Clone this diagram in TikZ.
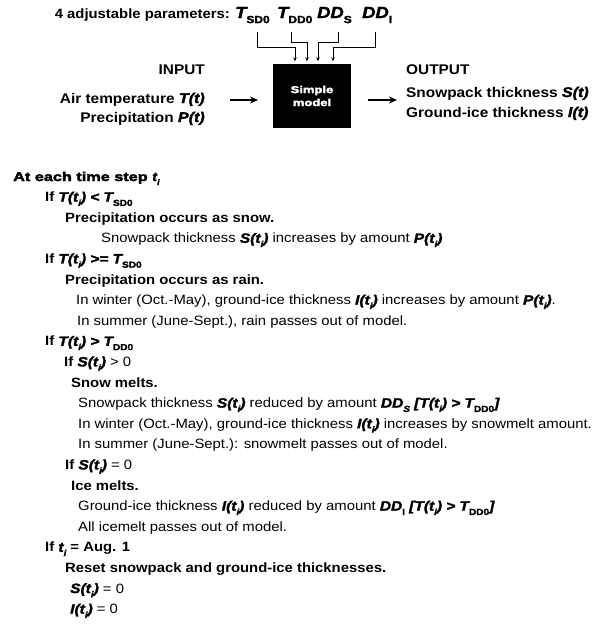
\documentclass[tikz,border=0pt]{standalone}
\usepackage{fontspec}
\setmainfont{Liberation Sans}[FakeStretch=1.1]
\newfontfamily\heavy{Liberation Sans}[FakeBold=2, FakeStretch=1.15]
\newfontfamily\blackf{Liberation Sans}[FakeBold=3, FakeStretch=1.3]
\usetikzlibrary{arrows.meta}
\newcommand\hv[1]{{\heavy\bfseries\itshape #1}}
\newcommand\hvu[1]{{\heavy\bfseries #1}}
\newcommand\lowsub[1]{\raisebox{-0.32em}{\fontsize{0.65em}{0.7em}\selectfont #1}}
\newcommand\vti[1]{\hv{#1(t}\lowsub{\hv{i}}\hv{)}}
\newcommand\Tsub[1]{\hv{T}\lowsub{\hvu{#1}}}
\tikzset{
  body/.style={inner sep=0pt, anchor=base west, font=\fontsize{13.5}{15}\selectfont},
  bodyb/.style={body, font=\fontsize{13.5}{15}\selectfont\bfseries},
  head/.style={inner sep=0pt, font=\fontsize{14}{16}\selectfont\bfseries},
  param/.style={inner sep=0pt, anchor=base west, font=\fontsize{16}{17}\selectfont},
  parr/.style={line width=0.8pt, -{Stealth[length=4pt,width=3.5pt]}, shorten >=2.5pt},
  bigarr/.style={line width=1.8pt, -{Stealth[length=8pt,width=7pt]}},
}
\begin{document}
\begin{tikzpicture}[x=1pt,y=-1pt]
\useasboundingbox (0,0) rectangle (594,627);
% header
\node[head, anchor=base east, font=\fontsize{13.5}{16}\selectfont\bfseries] (plab) at (230,18) {4 adjustable parameters:};
\node[param] (tsd) at (235,18) {\Tsub{SD0}};
\node[param] (tdd) at (277,18) {\Tsub{DD0}};
\node[param] (dds) at (317,18) {\hv{DD}\lowsub{\hvu{S}}};
\node[param] (ddi) at (362,18) {\hv{DD}\lowsub{\hvu{I}}};
\node[fill=black, minimum width=78pt, minimum height=64pt, inner sep=0pt, text=white, align=center,
      font=\fontsize{10}{13}\selectfont\blackf\bfseries] (box) at (312,96) {Simple\\model};
\coordinate (b1) at (295,47);
\coordinate (b2) at (307,42);
\coordinate (b3) at (318,42);
\coordinate (b4) at (333,47);
\draw[parr] ([yshift=-9pt]tsd.south -| 257,0) |- (b1) -- (b1 |- box.north);
\draw[parr] ([yshift=-9pt]tdd.south -| 291,0) |- (b2) -- (b2 |- box.north);
\draw[parr] ([yshift=-9pt]dds.south -| 338,0) |- (b3) -- (b3 |- box.north);
\draw[parr] ([yshift=-9pt]ddi.south -| 375,0) |- (b4) -- (b4 |- box.north);
% input / output
\node[head, anchor=base east] (inp) at (205,74) {INPUT};
\node[head, anchor=base east] (air) at (205,103) {Air temperature \hv{T(t)}};
\node[head, anchor=base east] (pre) at (205,122) {Precipitation \hv{P(t)}};
\node[head, anchor=base west] (out) at (406,74) {OUTPUT};
\node[head, anchor=base west] (snw) at (406,97) {Snowpack thickness \hv{S(t)}};
\node[head, anchor=base west] (gic) at (406,117) {Ground-ice thickness \hv{I(t)}};
\coordinate (ia1) at (230,100);
\coordinate (ia2) at (258,100);
\coordinate (oa1) at (368,100);
\coordinate (oa2) at (397,100);
\draw[bigarr] (ia1) -- (ia2);
\draw[bigarr] (oa1) -- (oa2);
% algorithm
\node[body, font=\fontsize{12.5}{14}\selectfont\blackf\bfseries] (l0) at (13,181) {At each time step \hv{t}\lowsub{\hv{i}}};
\node[bodyb] (l1) at (45,201.6) {If \vti{T} \hv{<} \Tsub{SD0}};
\node[bodyb] (l2) at (65,222.2) {Precipitation occurs as snow.};
\node[body] (l3) at (101,242.8) {Snowpack thickness \vti{S} increases by amount \vti{P}};
\node[bodyb] (l4) at (45,263.4) {If \vti{T} \hv{>=} \Tsub{SD0}};
\node[bodyb] (l5) at (65,284) {Precipitation occurs as rain.};
\node[body] (l6) at (76,304.6) {In winter (Oct.-May), ground-ice thickness \vti{I} increases by amount \vti{P}.};
\node[body] (l7) at (77,325.2) {In summer (June-Sept.), rain passes out of model.};
\node[bodyb] (l8) at (45,345.8) {If \vti{T} \hv{>} \Tsub{DD0}};
\node[bodyb] (l9) at (64,366.4) {If \vti{S} {\mdseries > 0}};
\node[bodyb] (l10) at (71,387) {Snow melts.};
\node[body] (l11) at (78,407.6) {Snowpack thickness \vti{S} reduced by amount \hv{DD}\lowsub{\hv{S}} \hv{[}\vti{T} \hv{>} \Tsub{DD0}\hv{]}};
\node[body] (l12) at (78,428.2) {In winter (Oct.-May), ground-ice thickness \vti{I} increases by snowmelt amount.};
\node[body] (l13) at (78,448.8) {In summer (June-Sept.): snowmelt passes out of model.};
\node[bodyb] (l14) at (65,469.4) {If \vti{S} {\mdseries = 0}};
\node[bodyb] (l15) at (71,490) {Ice melts.};
\node[body] (l16) at (78,510.6) {Ground-ice thickness \vti{I} reduced by amount \hv{DD}\lowsub{\hvu{I}} \hv{[}\vti{T} \hv{>} \Tsub{DD0}\hv{]}};
\node[body] (l17) at (78,531.2) {All icemelt passes out of model.};
\node[bodyb] (l18) at (45,551.8) {If \hv{t}\lowsub{\hv{i}} = Aug. 1};
\node[bodyb] (l19) at (65,572.4) {Reset snowpack and ground-ice thicknesses.};
\node[body] (l20) at (70,593) {\vti{S} = 0};
\node[body] (l21) at (70,613.6) {\vti{I} = 0};
\end{tikzpicture}
\end{document}
